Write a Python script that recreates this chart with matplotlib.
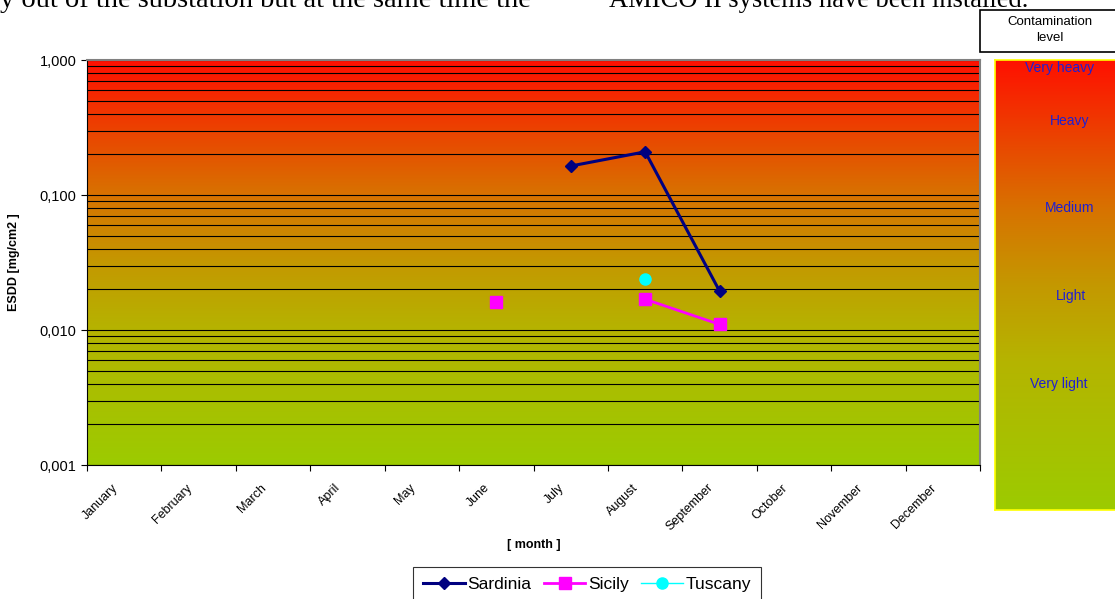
import numpy as np
import matplotlib
matplotlib.use("Agg")
import matplotlib.pyplot as plt
from matplotlib.colors import LinearSegmentedColormap
from matplotlib.patches import Rectangle
from matplotlib.ticker import FixedLocator, LogLocator, NullFormatter

months = ["January", "February", "March", "April", "May", "June", "July",
          "August", "September", "October", "November", "December"]

# series values (ESDD, mg/cm2); month index 0 = January, nan = no reading
sardinia_m = [6, 7, 8]
sardinia_y = [0.164, 0.209, 0.0194]
sicily_m = [5, 6, 7, 8]
sicily_y = [0.016, np.nan, 0.0169, 0.011]
tuscany_m = [7]
tuscany_y = [0.0239]

levels = ["Very heavy", "Heavy", "Medium", "Light", "Very light"]
level_y = [0.982, 0.863, 0.670, 0.474, 0.279]   # fraction of panel height
level_x = [0.48, 0.56, 0.56, 0.57, 0.48]

yticks = [0.001, 0.01, 0.1, 1.0]
ytick_labels = ["0,001", "0,010", "0,100", "1,000"]

grad = LinearSegmentedColormap.from_list(
    "contam", [(0.0, "#9ccb00"), (0.33, "#b5b400"), (0.5, "#c49800"),
               (0.67, "#d87200"), (0.85, "#ee3c00"), (1.0, "#ff1000")])

plt.rcParams["font.family"] = ["Liberation Sans", "DejaVu Sans"]

fig = plt.figure(figsize=(11.15, 5.99), dpi=100)

# clipped document text at the top
fig.text(0.0, 0.988, "y out of the substation but at the same time the",
         family="Liberation Serif", fontsize=20.5, va="baseline", ha="left")
fig.text(0.922, 0.988, "AMICO II systems have been installed.",
         family="Liberation Serif", fontsize=19.1, va="baseline", ha="right")

ax = fig.add_axes([0.078, 0.2237, 0.801, 0.6761])
ax.set_yscale("log")

# background gradient (linear in log space)
g = np.linspace(0, 1, 256).reshape(-1, 1)
ax.imshow(g, cmap=grad, aspect="auto", origin="lower", extent=[0, 1, 0, 1],
          transform=ax.transAxes, zorder=0, interpolation="bilinear")
ax.set_xlim(0, 12)
ax.set_ylim(0.001, 1.0)

ax.yaxis.set_major_locator(FixedLocator(yticks))
ax.set_yticklabels(ytick_labels)
ax.yaxis.set_minor_locator(LogLocator(base=10, subs=np.arange(2, 10)))
ax.yaxis.set_minor_formatter(NullFormatter())
ax.tick_params(axis="y", which="minor", length=0)
ax.grid(True, axis="y", which="both", color="black", linewidth=0.8, zorder=1)

centers = np.arange(12) + 0.5
ax.set_xticks(np.arange(13))
ax.set_xticklabels([])
ax.set_xticks(np.arange(12) + 0.33, minor=True)
ax.set_xticklabels(months, minor=True, rotation=45, ha="right", va="top",
                   rotation_mode="anchor", fontsize=9)
ax.tick_params(axis="x", which="minor", length=0, pad=12)
ax.tick_params(axis="x", which="major", length=4, direction="out")
ax.tick_params(axis="y", which="major", length=4, labelsize=10.5)

for s in ["top", "right"]:
    ax.spines[s].set_color("#808080")
    ax.spines[s].set_linewidth(1.5)
for s in ["left", "bottom"]:
    ax.spines[s].set_color("black")

xs = lambda idx: [centers[i] for i in idx]
ax.plot(xs(sardinia_m), sardinia_y, color="#000080", marker="D", markersize=6,
        linewidth=2.2, label="Sardinia", zorder=3)
ax.plot(xs(sicily_m), sicily_y, color="#ff00ff", marker="s", markersize=8,
        linewidth=2, label="Sicily", zorder=3)
ax.plot(xs(tuscany_m), tuscany_y, color="#00ffff", marker="o", markersize=8,
        linewidth=1, label="Tuscany", zorder=3)

ax.set_ylabel("ESDD [mg/cm2 ]", fontsize=9, fontweight="bold", labelpad=14)
ax.set_xlabel("[ month ]", fontsize=9, fontweight="bold", labelpad=4)

leg = fig.legend(loc="upper center", bbox_to_anchor=(0.5265, 0.054), ncol=3,
                 frameon=True, fancybox=False, edgecolor="black", fontsize=12.5,
                 handlelength=2.4, handletextpad=0.15, columnspacing=0.7,
                 borderpad=0.6, borderaxespad=0)
leg.get_frame().set_linewidth(0.8)

# right-hand contamination level panel
pax = fig.add_axes([0.8924, 0.1486, 0.12, 0.752])
pax.imshow(g, cmap=grad, aspect="auto", origin="lower", extent=[0, 1, 0, 1])
pax.set_xlim(0, 1)
pax.set_ylim(0, 1)
pax.set_xticks([])
pax.set_yticks([])
for s in pax.spines.values():
    s.set_color("#ffff00")
    s.set_linewidth(1.2)
for name, px, py in zip(levels, level_x, level_y):
    pax.text(px, py, name, color="#2020d0", fontsize=10, ha="center", va="center")

fig.patches.append(Rectangle((980 / 1115, 1 - 52 / 599), 0.2, 42 / 599,
                             transform=fig.transFigure, facecolor="white",
                             edgecolor="black", linewidth=1.2))
fig.text(1050 / 1115, 1 - 30 / 599, "Contamination\nlevel", fontsize=9.5,
         ha="center", va="center", linespacing=1.35)

fig.savefig("out.png", dpi=100)
